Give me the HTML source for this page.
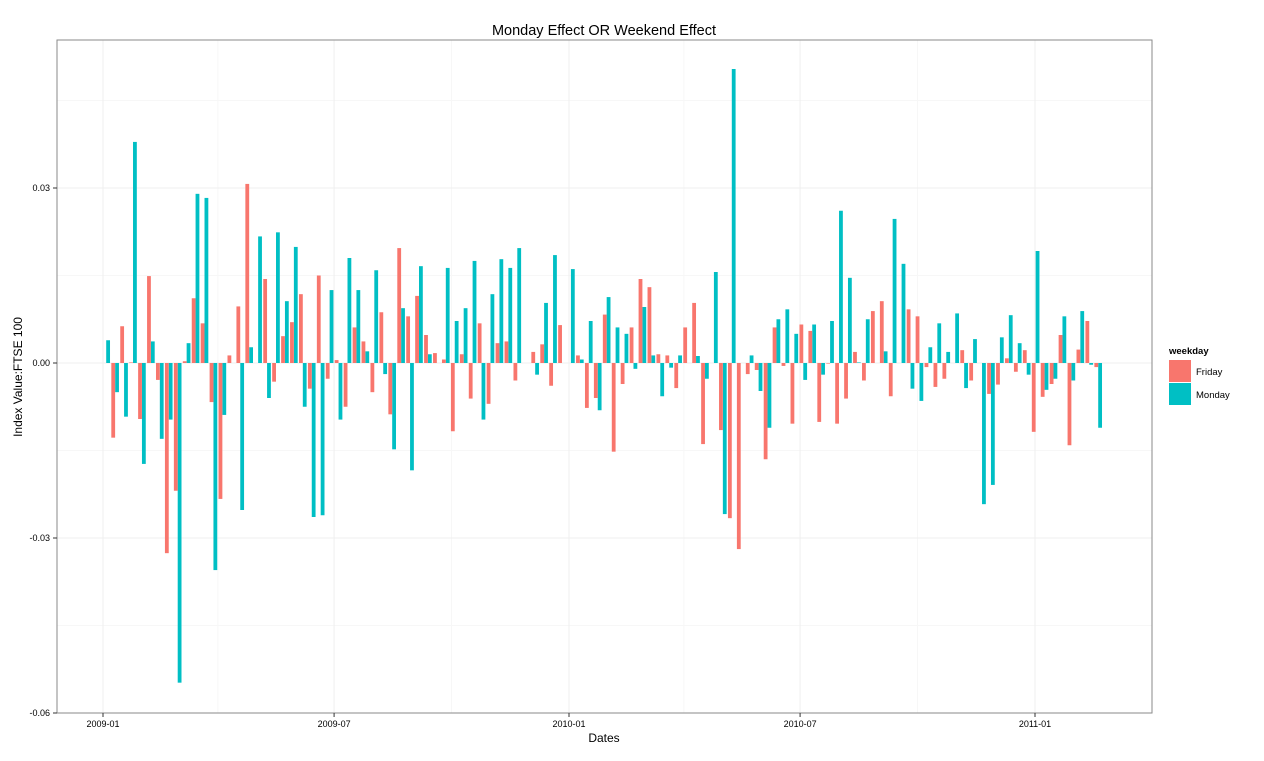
<!DOCTYPE html>
<html><head><meta charset="utf-8"><style>
body{margin:0;background:#fff;font-family:"Liberation Sans",sans-serif}
</style></head><body>
<svg id="chart" width="1264" height="756" xmlns="http://www.w3.org/2000/svg" font-family="Liberation Sans, sans-serif">
<rect width="1264" height="756" fill="#fff"/>
<text x="604" y="35" text-anchor="middle" font-size="14.5">Monday Effect OR Weekend Effect</text>
<g id="grid"></g>
<g id="bars"></g>
<rect x="57" y="40" width="1095" height="673" fill="none" stroke="#8a8a8a" stroke-width="1"/>
<g id="axes" font-size="9"></g>
<text x="604" y="742" text-anchor="middle" font-size="12">Dates</text>
<text transform="translate(22,377) rotate(-90)" text-anchor="middle" font-size="12">Index Value:FTSE 100</text>
<g>
<text x="1169" y="354" font-size="9.5" font-weight="bold">weekday</text>
<rect x="1169" y="360" width="22" height="22" fill="#F8766D"/>
<text x="1196" y="375" font-size="9.5">Friday</text>
<rect x="1169" y="383" width="22" height="22" fill="#00BFC4"/>
<text x="1196" y="398" font-size="9.5">Monday</text>
</g>
</svg>
<script>
// Weekly data: index k = week starting Monday 2009-01-05 + 7k days; Friday = Monday + 4 days
const firstMonday = "2009-01-05";
const mondayValues = [0.0039,-0.0050,-0.0092,0.0379,-0.0173,0.0037,-0.0130,-0.0097,-0.0548,0.0034,
0.0290,0.0283,-0.0355,-0.0089,null,-0.0252,0.0027,0.0217,-0.0060,0.0224,
0.0106,0.0199,-0.0075,-0.0264,-0.0261,0.0125,-0.0097,0.0180,0.0125,0.0020,
0.0159,-0.0019,-0.0148,0.0094,-0.0184,0.0166,0.0015,null,0.0163,0.0072,
0.0094,0.0175,-0.0097,0.0118,0.0178,0.0163,0.0197,null,-0.0020,0.0103,
0.0185,null,0.0161,0.0006,0.0072,-0.0081,0.0113,0.0061,0.0050,-0.0010,
0.0096,0.0013,-0.0057,-0.0008,0.0013,null,0.0012,-0.0027,0.0156,-0.0259,
0.0504,null,0.0013,-0.0048,-0.0111,0.0075,0.0092,0.0050,-0.0029,0.0066,
-0.0020,0.0072,0.0261,0.0146,0.0001,0.0075,null,0.0020,0.0247,0.0170,
-0.0044,-0.0065,0.0027,0.0068,0.0019,0.0085,-0.0043,0.0041,-0.0242,-0.0209,
0.0044,0.0082,0.0034,-0.0020,0.0192,-0.0046,-0.0027,0.0080,-0.0030,0.0089,
-0.0003,-0.0111];
const fridayValues = [-0.0128,0.0063,0.0001,-0.0096,0.0149,-0.0029,-0.0326,-0.0219,0.0003,0.0111,
0.0068,-0.0067,-0.0233,0.0013,0.0097,0.0307,null,0.0144,-0.0032,0.0046,
0.0070,0.0118,-0.0044,0.0150,-0.0027,0.0005,-0.0075,0.0061,0.0037,-0.0050,
0.0087,-0.0088,0.0197,0.0080,0.0115,0.0048,0.0017,0.0006,-0.0117,0.0015,
-0.0061,0.0068,-0.0070,0.0034,0.0037,-0.0030,null,0.0019,0.0032,-0.0039,
0.0065,null,0.0013,-0.0077,-0.0060,0.0083,-0.0152,-0.0036,0.0061,0.0144,
0.0130,0.0015,0.0013,-0.0043,0.0061,0.0103,-0.0139,null,-0.0115,-0.0266,
-0.0319,-0.0019,-0.0012,-0.0165,0.0061,-0.0005,-0.0104,0.0066,0.0055,-0.0101,
-0.0001,-0.0104,-0.0061,0.0019,-0.0030,0.0089,0.0106,-0.0057,null,0.0092,
0.0080,-0.0007,-0.0041,-0.0027,null,0.0022,-0.0030,null,-0.0053,-0.0037,
0.0008,-0.0015,0.0022,-0.0118,-0.0058,-0.0036,0.0048,-0.0141,0.0023,0.0072,
-0.0007];
const yTicks = [0.03, 0.00, -0.03, -0.06];
const yTickLabels = ["0.03","0.00","-0.03","-0.06"];
const yMinor = [0.045, 0.015, -0.015, -0.045];
const xTicks = ["2009-01-01","2009-07-01","2010-01-01","2010-07-01","2011-01-01"];
const xTickLabels = ["2009-01","2009-07","2010-01","2010-07","2011-01"];
const xMinor = ["2009-04-01","2009-10-01","2010-04-01","2010-10-01"];

const NS="http://www.w3.org/2000/svg";
const dayMs=86400000, t0=Date.UTC(2009,0,1), t1=Date.UTC(2011,0,1);
function dParse(s){const p=s.split("-");return Date.UTC(+p[0],+p[1]-1,+p[2]);}
function xScale(t){return 103+(t-t0)/(t1-t0)*(1035-103);}
function yScale(v){return 363-v*(175/0.03);}
function mk(tag,attrs,parent){const e=document.createElementNS(NS,tag);for(const k in attrs)e.setAttribute(k,attrs[k]);parent.appendChild(e);return e;}
const grid=document.getElementById('grid'), bars=document.getElementById('bars'), axes=document.getElementById('axes');
yMinor.forEach(v=>{const l=mk('line',{x1:57,x2:1152,y1:yScale(v),y2:yScale(v),stroke:'#f7f7f7','stroke-width':1},grid);

});
xMinor.forEach(s=>{const x=xScale(dParse(s));const l=mk('line',{x1:x,x2:x,y1:40,y2:713,stroke:'#f7f7f7','stroke-width':1},grid);

});
yTicks.forEach((v,i)=>{const y=yScale(v);
const l=mk('line',{x1:57,x2:1152,y1:y,y2:y,stroke:'#efefef','stroke-width':1},grid);


const tk=mk('line',{x1:53,x2:57,y1:y,y2:y,stroke:'#333'},axes);


const t=mk('text',{x:50,y:y+3,'text-anchor':'end'},axes);t.textContent=yTickLabels[i];

});
xTicks.forEach((s,i)=>{const x=xScale(dParse(s));
const l=mk('line',{x1:x,x2:x,y1:40,y2:713,stroke:'#efefef','stroke-width':1},grid);


const tk=mk('line',{x1:x,x2:x,y1:713,y2:717,stroke:'#333'},axes);


const t=mk('text',{x:x,y:727,'text-anchor':'middle'},axes);t.textContent=xTickLabels[i];

});
const m0=dParse(firstMonday), bw=3.8;
function drawBar(t,v,color,name){const x=xScale(t),y0=yScale(0),y1=yScale(v);
const r=mk('rect',{x:x-bw/2,y:Math.min(y0,y1),width:bw,height:Math.max(0.5,Math.abs(y1-y0)),fill:color},bars);

}
mondayValues.forEach((v,k)=>{if(v!==null)drawBar(m0+7*k*dayMs,v,'#00BFC4','bar-monday');});
fridayValues.forEach((v,k)=>{if(v!==null)drawBar(m0+(7*k+4)*dayMs,v,'#F8766D','bar-friday');});
</script>
</body></html>
